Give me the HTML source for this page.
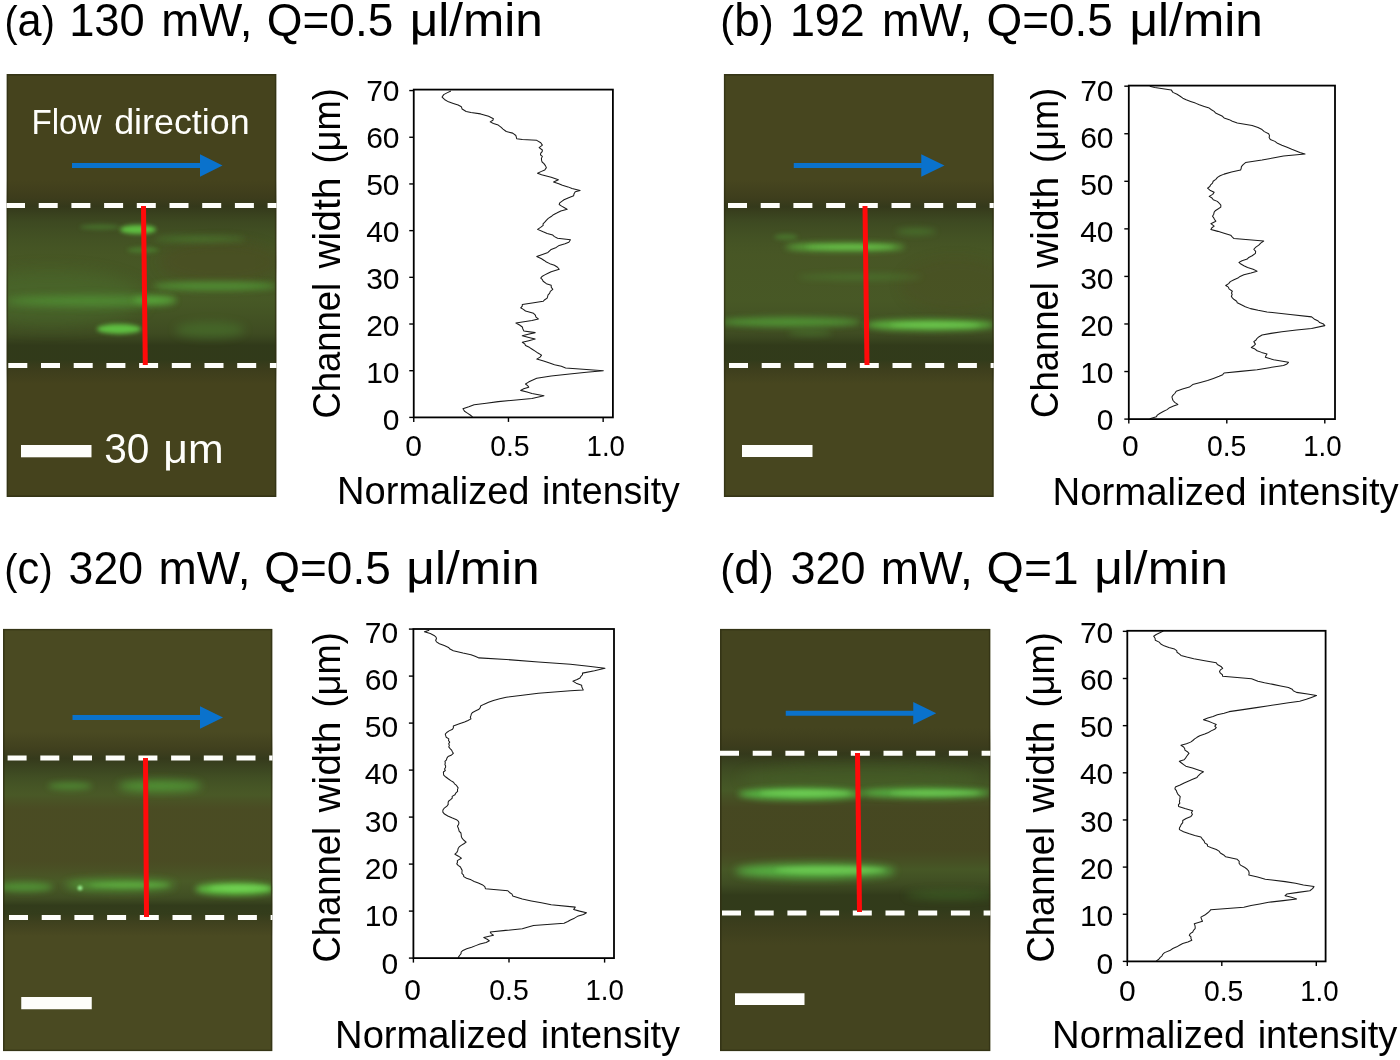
<!DOCTYPE html><html><head><meta charset="utf-8"><style>html,body{margin:0;padding:0;background:#fff;width:1400px;height:1060px;overflow:hidden}svg{display:block;will-change:transform}text{font-family:"Liberation Sans", sans-serif}</style></head><body>
<svg width="1400" height="1060" viewBox="0 0 1400 1060">
<defs>
<filter id="bl1" filterUnits="userSpaceOnUse" x="0" y="0" width="1400" height="1060"><feGaussianBlur stdDeviation="1"/></filter>
<filter id="bl2" filterUnits="userSpaceOnUse" x="0" y="0" width="1400" height="1060"><feGaussianBlur stdDeviation="2"/></filter>
<filter id="bl3" filterUnits="userSpaceOnUse" x="0" y="0" width="1400" height="1060"><feGaussianBlur stdDeviation="3"/></filter>
<filter id="bl4" filterUnits="userSpaceOnUse" x="0" y="0" width="1400" height="1060"><feGaussianBlur stdDeviation="4"/></filter>
<filter id="bl5" filterUnits="userSpaceOnUse" x="0" y="0" width="1400" height="1060"><feGaussianBlur stdDeviation="5"/></filter>
<filter id="bl6" filterUnits="userSpaceOnUse" x="0" y="0" width="1400" height="1060"><feGaussianBlur stdDeviation="6"/></filter>
<filter id="bl8" filterUnits="userSpaceOnUse" x="0" y="0" width="1400" height="1060"><feGaussianBlur stdDeviation="8"/></filter>
<filter id="bl10" filterUnits="userSpaceOnUse" x="0" y="0" width="1400" height="1060"><feGaussianBlur stdDeviation="10"/></filter>
</defs>
<clipPath id="cpa"><rect x="6.5" y="74" width="270" height="423"/></clipPath>
<g clip-path="url(#cpa)">
<rect x="6.5" y="74" width="270" height="423" fill="#45431d"/>
<linearGradient id="vga0" gradientUnits="userSpaceOnUse" x1="0" y1="180" x2="0" y2="384">
<stop offset="0" stop-color="#38381b" stop-opacity="0"/>
<stop offset="0.08" stop-color="#38381b" stop-opacity="0.55"/>
<stop offset="0.13" stop-color="#30361a" stop-opacity="0.8"/>
<stop offset="0.2" stop-color="#3a4a22" stop-opacity="0.75"/>
<stop offset="0.37" stop-color="#486a2c" stop-opacity="0.5"/>
<stop offset="0.59" stop-color="#486a2c" stop-opacity="0.55"/>
<stop offset="0.75" stop-color="#3b5024" stop-opacity="0.65"/>
<stop offset="0.81" stop-color="#2c3819" stop-opacity="0.8"/>
<stop offset="0.88" stop-color="#2c3819" stop-opacity="0.8"/>
<stop offset="0.94" stop-color="#36381b" stop-opacity="0.45"/>
<stop offset="1" stop-color="#36381b" stop-opacity="0"/>
</linearGradient>
<rect x="6.5" y="180" width="270" height="204" fill="url(#vga0)"/>
<ellipse cx="50" cy="298" rx="95" ry="28" fill="#4e7a30" opacity="0.35" filter="url(#bl8)"/>
<ellipse cx="220" cy="262" rx="60" ry="22" fill="#4e4a22" opacity="0.45" filter="url(#bl6)"/>
<ellipse cx="138" cy="229.5" rx="18" ry="4.5" fill="#62cc44" opacity="0.9" filter="url(#bl2)"/>
<ellipse cx="100" cy="227" rx="20" ry="2.5" fill="#4f9434" opacity="0.5" filter="url(#bl2)"/>
<ellipse cx="143" cy="250" rx="16" ry="3" fill="#4f9434" opacity="0.55" filter="url(#bl2)"/>
<ellipse cx="200" cy="239" rx="45" ry="3" fill="#4f9434" opacity="0.5" filter="url(#bl3)"/>
<ellipse cx="215" cy="286" rx="62" ry="4.5" fill="#55aa3a" opacity="0.65" filter="url(#bl3)"/>
<ellipse cx="90" cy="301" rx="85" ry="5" fill="#55aa3a" opacity="0.6" filter="url(#bl4)"/>
<ellipse cx="155" cy="300" rx="22" ry="4" fill="#62cc44" opacity="0.55" filter="url(#bl3)"/>
<ellipse cx="119" cy="329" rx="22" ry="5" fill="#62cc44" opacity="0.9" filter="url(#bl2)"/>
<ellipse cx="210" cy="330" rx="35" ry="8" fill="#4f9434" opacity="0.35" filter="url(#bl5)"/>
<rect x="7.3" y="74.8" width="268.4" height="421.4" fill="none" stroke="#2e2e12" stroke-width="1.6" opacity="0.7"/>
<line x1="6" y1="205.5" x2="316.5" y2="205.5" stroke="#fefefb" stroke-width="5" stroke-dasharray="19 13.7"/>
<line x1="-24.4" y1="365.5" x2="316.5" y2="365.5" stroke="#fefefb" stroke-width="5" stroke-dasharray="19 13.7"/>
<line x1="143.5" y1="206" x2="145.3" y2="365" stroke="#ff0a0a" stroke-width="5"/>
<rect x="72" y="163" width="129" height="5" fill="#0a72cc"/>
<polygon points="200,154.3 222.5,165.5 200,176.7" fill="#0a72cc"/>
<rect x="21" y="445" width="70.5" height="12.3" fill="#fefefb"/>
</g>
<clipPath id="cpb"><rect x="723.75" y="74" width="270" height="423"/></clipPath>
<g clip-path="url(#cpb)">
<rect x="723.75" y="74" width="270" height="423" fill="#47461f"/>
<linearGradient id="vgb0" gradientUnits="userSpaceOnUse" x1="0" y1="180" x2="0" y2="384">
<stop offset="0" stop-color="#38381b" stop-opacity="0"/>
<stop offset="0.08" stop-color="#38381b" stop-opacity="0.55"/>
<stop offset="0.13" stop-color="#30361a" stop-opacity="0.8"/>
<stop offset="0.2" stop-color="#3a4a22" stop-opacity="0.75"/>
<stop offset="0.37" stop-color="#486a2c" stop-opacity="0.45"/>
<stop offset="0.59" stop-color="#486a2c" stop-opacity="0.5"/>
<stop offset="0.75" stop-color="#3b5024" stop-opacity="0.65"/>
<stop offset="0.81" stop-color="#2c3819" stop-opacity="0.8"/>
<stop offset="0.88" stop-color="#2c3819" stop-opacity="0.8"/>
<stop offset="0.94" stop-color="#36381b" stop-opacity="0.45"/>
<stop offset="1" stop-color="#36381b" stop-opacity="0"/>
</linearGradient>
<rect x="723.75" y="180" width="270" height="204" fill="url(#vgb0)"/>
<ellipse cx="955" cy="285" rx="55" ry="28" fill="#4e4a22" opacity="0.3" filter="url(#bl6)"/>
<ellipse cx="845" cy="247" rx="60" ry="3.8" fill="#62cc44" opacity="0.8" filter="url(#bl3)"/>
<ellipse cx="850" cy="247" rx="45" ry="2.2" fill="#78d858" opacity="0.5" filter="url(#bl2)"/>
<ellipse cx="786" cy="237" rx="12" ry="3" fill="#4f9434" opacity="0.5" filter="url(#bl2)"/>
<ellipse cx="916" cy="231.5" rx="20" ry="3" fill="#4f9434" opacity="0.5" filter="url(#bl3)"/>
<ellipse cx="860" cy="277" rx="62" ry="3" fill="#4f9434" opacity="0.4" filter="url(#bl3)"/>
<ellipse cx="790" cy="322" rx="70" ry="5" fill="#55aa3a" opacity="0.7" filter="url(#bl3)"/>
<ellipse cx="930" cy="325" rx="65" ry="5.5" fill="#62cc44" opacity="0.8" filter="url(#bl3)"/>
<ellipse cx="935" cy="325" rx="45" ry="2.5" fill="#80e060" opacity="0.45" filter="url(#bl2)"/>
<ellipse cx="810" cy="333" rx="22" ry="3" fill="#4f9434" opacity="0.4" filter="url(#bl3)"/>
<rect x="724.55" y="74.8" width="268.4" height="421.4" fill="none" stroke="#2e2e12" stroke-width="1.6" opacity="0.7"/>
<line x1="695.3" y1="205.5" x2="1033.75" y2="205.5" stroke="#fefefb" stroke-width="5" stroke-dasharray="19 13.7"/>
<line x1="696.3" y1="365.5" x2="1033.75" y2="365.5" stroke="#fefefb" stroke-width="5" stroke-dasharray="19 13.7"/>
<line x1="865" y1="206" x2="867" y2="365" stroke="#ff0a0a" stroke-width="5"/>
<rect x="793.75" y="163" width="128.5" height="5" fill="#0a72cc"/>
<polygon points="921.25,154.3 944.5,165.5 921.25,176.7" fill="#0a72cc"/>
<rect x="742" y="445" width="70.5" height="12" fill="#fefefb"/>
</g>
<clipPath id="cpc"><rect x="3" y="628.75" width="269.5" height="422.5"/></clipPath>
<g clip-path="url(#cpc)">
<rect x="3" y="628.75" width="269.5" height="422.5" fill="#4a4a22"/>
<linearGradient id="vgc0" gradientUnits="userSpaceOnUse" x1="0" y1="732" x2="0" y2="936">
<stop offset="0" stop-color="#38381b" stop-opacity="0"/>
<stop offset="0.08" stop-color="#38381b" stop-opacity="0.55"/>
<stop offset="0.13" stop-color="#30361a" stop-opacity="0.8"/>
<stop offset="0.2" stop-color="#3a4a22" stop-opacity="0.75"/>
<stop offset="0.31" stop-color="#486a2c" stop-opacity="0.45"/>
<stop offset="0.38" stop-color="#4a5026" stop-opacity="0.3"/>
<stop offset="0.63" stop-color="#4a5026" stop-opacity="0.3"/>
<stop offset="0.73" stop-color="#486a2c" stop-opacity="0.5"/>
<stop offset="0.81" stop-color="#3b5024" stop-opacity="0.65"/>
<stop offset="0.85" stop-color="#2c3819" stop-opacity="0.8"/>
<stop offset="0.89" stop-color="#2c3819" stop-opacity="0.75"/>
<stop offset="0.95" stop-color="#36381b" stop-opacity="0.4"/>
<stop offset="1" stop-color="#36381b" stop-opacity="0"/>
</linearGradient>
<rect x="3" y="732" width="269.5" height="204" fill="url(#vgc0)"/>
<ellipse cx="70" cy="786" rx="22" ry="3.5" fill="#55aa3a" opacity="0.6" filter="url(#bl3)"/>
<ellipse cx="160" cy="786" rx="42" ry="5.5" fill="#55aa3a" opacity="0.75" filter="url(#bl4)"/>
<ellipse cx="25" cy="887" rx="28" ry="4.5" fill="#55aa3a" opacity="0.7" filter="url(#bl3)"/>
<ellipse cx="120" cy="885" rx="55" ry="5.5" fill="#55aa3a" opacity="0.8" filter="url(#bl4)"/>
<ellipse cx="235" cy="889" rx="40" ry="6" fill="#62cc44" opacity="0.95" filter="url(#bl3)"/>
<ellipse cx="240" cy="888" rx="30" ry="3" fill="#80e060" opacity="0.55" filter="url(#bl2)"/>
<ellipse cx="130" cy="885" rx="40" ry="2.5" fill="#70d050" opacity="0.4" filter="url(#bl2)"/>
<ellipse cx="80" cy="888" rx="2.5" ry="2.5" fill="#9af090" opacity="0.9" filter="url(#bl1)"/>
<rect x="3.8" y="629.55" width="267.9" height="420.9" fill="none" stroke="#2e2e12" stroke-width="1.6" opacity="0.7"/>
<line x1="-25.1" y1="758" x2="312.5" y2="758" stroke="#fefefb" stroke-width="5" stroke-dasharray="19 13.7"/>
<line x1="-23.7" y1="917.4" x2="312.5" y2="917.4" stroke="#fefefb" stroke-width="5" stroke-dasharray="19 13.7"/>
<line x1="145.5" y1="758" x2="146.5" y2="917" stroke="#ff0a0a" stroke-width="5"/>
<rect x="72.5" y="715" width="128.5" height="5" fill="#0a72cc"/>
<polygon points="200,706.3 223,717.5 200,728.7" fill="#0a72cc"/>
<rect x="21.25" y="997" width="70.5" height="12.25" fill="#fefefb"/>
</g>
<clipPath id="cpd"><rect x="720" y="628.75" width="270.5" height="422.5"/></clipPath>
<g clip-path="url(#cpd)">
<rect x="720" y="628.75" width="270.5" height="422.5" fill="#44441f"/>
<linearGradient id="vgd0" gradientUnits="userSpaceOnUse" x1="0" y1="728" x2="0" y2="945">
<stop offset="0" stop-color="#38381b" stop-opacity="0"/>
<stop offset="0.07" stop-color="#38381b" stop-opacity="0.55"/>
<stop offset="0.12" stop-color="#30361a" stop-opacity="0.8"/>
<stop offset="0.18" stop-color="#3a4a22" stop-opacity="0.75"/>
<stop offset="0.29" stop-color="#486a2c" stop-opacity="0.55"/>
<stop offset="0.37" stop-color="#4a5026" stop-opacity="0.3"/>
<stop offset="0.56" stop-color="#4a5026" stop-opacity="0.3"/>
<stop offset="0.65" stop-color="#486a2c" stop-opacity="0.5"/>
<stop offset="0.72" stop-color="#3b5024" stop-opacity="0.65"/>
<stop offset="0.77" stop-color="#2c3819" stop-opacity="0.75"/>
<stop offset="0.84" stop-color="#2c3819" stop-opacity="0.75"/>
<stop offset="0.91" stop-color="#34381b" stop-opacity="0.5"/>
<stop offset="1" stop-color="#34381b" stop-opacity="0"/>
</linearGradient>
<rect x="720" y="728" width="270.5" height="217" fill="url(#vgd0)"/>
<ellipse cx="950" cy="895" rx="45" ry="4" fill="#4f9434" opacity="0.35" filter="url(#bl4)"/>
<ellipse cx="860" cy="778" rx="120" ry="14" fill="#4a6a2c" opacity="0.35" filter="url(#bl6)"/>
<ellipse cx="800" cy="794" rx="62" ry="6" fill="#5ac848" opacity="0.85" filter="url(#bl3)"/>
<ellipse cx="925" cy="793" rx="65" ry="5" fill="#5ac848" opacity="0.8" filter="url(#bl3)"/>
<ellipse cx="805" cy="793" rx="45" ry="3" fill="#80e060" opacity="0.55" filter="url(#bl2)"/>
<ellipse cx="935" cy="793" rx="45" ry="2.5" fill="#80e060" opacity="0.5" filter="url(#bl2)"/>
<ellipse cx="815" cy="871" rx="80" ry="7" fill="#5ac848" opacity="0.85" filter="url(#bl4)"/>
<ellipse cx="830" cy="870" rx="55" ry="3.5" fill="#80e060" opacity="0.5" filter="url(#bl2)"/>
<rect x="720.8" y="629.55" width="268.9" height="420.9" fill="none" stroke="#2e2e12" stroke-width="1.6" opacity="0.7"/>
<line x1="720" y1="753.2" x2="1030.5" y2="753.2" stroke="#fefefb" stroke-width="5" stroke-dasharray="19 13.7"/>
<line x1="689.3" y1="913" x2="1030.5" y2="913" stroke="#fefefb" stroke-width="5" stroke-dasharray="19 13.7"/>
<line x1="857.5" y1="753" x2="859.5" y2="912" stroke="#ff0a0a" stroke-width="5"/>
<rect x="785.75" y="710.75" width="128.5" height="5" fill="#0a72cc"/>
<polygon points="913.25,702.05 936.25,713.25 913.25,724.45" fill="#0a72cc"/>
<rect x="735" y="993.25" width="69.5" height="11.75" fill="#fefefb"/>
</g>
<text x="4.4" y="36.3" font-size="46" fill="#000" textLength="50.4" lengthAdjust="spacingAndGlyphs"><tspan font-size="42">(</tspan>a<tspan font-size="42">)</tspan></text>
<text x="69.16" y="36.3" font-size="46" fill="#000" textLength="75.57" lengthAdjust="spacingAndGlyphs">130</text>
<text x="161.17" y="36.3" font-size="46" fill="#000" textLength="91.29" lengthAdjust="spacingAndGlyphs">mW,</text>
<text x="266.79" y="36.3" font-size="46" fill="#000" textLength="126.41" lengthAdjust="spacingAndGlyphs">Q=0.5</text>
<text x="409.75" y="36.3" font-size="46" fill="#000" textLength="133.12" lengthAdjust="spacingAndGlyphs">μl/min</text>
<text x="720.28" y="36.3" font-size="46" fill="#000" textLength="53.45" lengthAdjust="spacingAndGlyphs"><tspan font-size="42">(</tspan>b<tspan font-size="42">)</tspan></text>
<text x="789.93" y="36.3" font-size="46" fill="#000" textLength="74.83" lengthAdjust="spacingAndGlyphs">192</text>
<text x="881.9" y="36.3" font-size="46" fill="#000" textLength="90.24" lengthAdjust="spacingAndGlyphs">mW,</text>
<text x="986.59" y="36.3" font-size="46" fill="#000" textLength="126.33" lengthAdjust="spacingAndGlyphs">Q=0.5</text>
<text x="1129.53" y="36.3" font-size="46" fill="#000" textLength="133.34" lengthAdjust="spacingAndGlyphs">μl/min</text>
<text x="4.37" y="583.9" font-size="46" fill="#000" textLength="48.27" lengthAdjust="spacingAndGlyphs"><tspan font-size="42">(</tspan>c<tspan font-size="42">)</tspan></text>
<text x="68.62" y="583.9" font-size="46" fill="#000" textLength="74.38" lengthAdjust="spacingAndGlyphs">320</text>
<text x="158.58" y="583.9" font-size="46" fill="#000" textLength="91.88" lengthAdjust="spacingAndGlyphs">mW,</text>
<text x="264.28" y="583.9" font-size="46" fill="#000" textLength="126.45" lengthAdjust="spacingAndGlyphs">Q=0.5</text>
<text x="406.37" y="583.9" font-size="46" fill="#000" textLength="133.25" lengthAdjust="spacingAndGlyphs">μl/min</text>
<text x="720.28" y="583.9" font-size="46" fill="#000" textLength="53.45" lengthAdjust="spacingAndGlyphs"><tspan font-size="42">(</tspan>d<tspan font-size="42">)</tspan></text>
<text x="790.39" y="583.9" font-size="46" fill="#000" textLength="75.01" lengthAdjust="spacingAndGlyphs">320</text>
<text x="880.86" y="583.9" font-size="46" fill="#000" textLength="91.91" lengthAdjust="spacingAndGlyphs">mW,</text>
<text x="986.59" y="583.9" font-size="46" fill="#000" textLength="91.99" lengthAdjust="spacingAndGlyphs">Q=1</text>
<text x="1094.15" y="583.9" font-size="46" fill="#000" textLength="133.7" lengthAdjust="spacingAndGlyphs">μl/min</text>
<text x="337.09" y="503.9" font-size="38" fill="#000" textLength="192.42" lengthAdjust="spacingAndGlyphs">Normalized</text>
<text x="542.12" y="503.9" font-size="38" fill="#000" textLength="137.75" lengthAdjust="spacingAndGlyphs">intensity</text>
<text x="1052.58" y="504.5" font-size="38" fill="#000" textLength="193.88" lengthAdjust="spacingAndGlyphs">Normalized</text>
<text x="1258.57" y="504.5" font-size="38" fill="#000" textLength="140.06" lengthAdjust="spacingAndGlyphs">intensity</text>
<text x="335.11" y="1048.4" font-size="38" fill="#000" textLength="192.75" lengthAdjust="spacingAndGlyphs">Normalized</text>
<text x="540.86" y="1048.4" font-size="38" fill="#000" textLength="139.22" lengthAdjust="spacingAndGlyphs">intensity</text>
<text x="1052.1" y="1047.5" font-size="38" fill="#000" textLength="193.21" lengthAdjust="spacingAndGlyphs">Normalized</text>
<text x="1257.63" y="1047.5" font-size="38" fill="#000" textLength="139.75" lengthAdjust="spacingAndGlyphs">intensity</text>
<text transform="translate(340 418.51) rotate(-90)" font-size="38" fill="#000" textLength="135.72" lengthAdjust="spacingAndGlyphs">Channel</text>
<text transform="translate(340 268.57) rotate(-90)" font-size="38" fill="#000" textLength="91.14" lengthAdjust="spacingAndGlyphs">width</text>
<text transform="translate(340 163.52) rotate(-90)" font-size="38" fill="#000" textLength="75.23" lengthAdjust="spacingAndGlyphs">(μm)</text>
<text transform="translate(1058 417.89) rotate(-90)" font-size="38" fill="#000" textLength="135.69" lengthAdjust="spacingAndGlyphs">Channel</text>
<text transform="translate(1058 267.98) rotate(-90)" font-size="38" fill="#000" textLength="91.15" lengthAdjust="spacingAndGlyphs">width</text>
<text transform="translate(1058 162.88) rotate(-90)" font-size="38" fill="#000" textLength="75.19" lengthAdjust="spacingAndGlyphs">(μm)</text>
<text transform="translate(340 962.51) rotate(-90)" font-size="38" fill="#000" textLength="135.72" lengthAdjust="spacingAndGlyphs">Channel</text>
<text transform="translate(340 812.57) rotate(-90)" font-size="38" fill="#000" textLength="91.14" lengthAdjust="spacingAndGlyphs">width</text>
<text transform="translate(340 707.52) rotate(-90)" font-size="38" fill="#000" textLength="75.23" lengthAdjust="spacingAndGlyphs">(μm)</text>
<text transform="translate(1054.4 962.51) rotate(-90)" font-size="38" fill="#000" textLength="135.72" lengthAdjust="spacingAndGlyphs">Channel</text>
<text transform="translate(1054.4 812.57) rotate(-90)" font-size="38" fill="#000" textLength="91.14" lengthAdjust="spacingAndGlyphs">width</text>
<text transform="translate(1054.4 707.52) rotate(-90)" font-size="38" fill="#000" textLength="75.23" lengthAdjust="spacingAndGlyphs">(μm)</text>
<text x="31.38" y="133.8" font-size="35" fill="#fefefb" textLength="70.13" lengthAdjust="spacingAndGlyphs">Flow</text>
<text x="114.18" y="133.8" font-size="35" fill="#fefefb" textLength="135.43" lengthAdjust="spacingAndGlyphs">direction</text>
<text x="104.24" y="462.5" font-size="42.5" fill="#fefefb" textLength="45.22" lengthAdjust="spacingAndGlyphs">30</text>
<text x="163.24" y="462.5" font-size="41.5" fill="#fefefb" textLength="60.33" lengthAdjust="spacingAndGlyphs">μm</text>
<path d="M450.91 91.1 L446.94 92.86 L443.69 94.63 L442.09 97.03 L444.49 99.44 L448.5 101.85 L453.31 103.45 L458.13 105.05 L461.34 106.66 L462.14 109.07 L466.15 111.47 L470.97 112.6 L480.59 113.88 L488.61 116.29 L493.43 118.69 L492.84 120.3 L490.22 121.9 L493.43 123.5 L498.24 125.11 L500.92 127.11 L503.05 129.12 L506.26 131.53 L512.68 133.13 L515.89 135.54 L516.32 137.14 L516.69 138.75 L522.31 139.55 L536.74 140.35 L540.76 142.76 L542.36 145.16 L539.15 147.57 L542.36 149.98 L542.16 151.58 L540.76 153.19 L540.46 154.79 L542.36 156.39 L541.42 158.4 L541.56 160.41 L542.12 162.01 L543.96 163.61 L545.4 165.62 L546.37 167.62 L544.77 170.03 L540.89 171.64 L537.55 173.24 L541.56 174.84 L551.18 177.25 L558.4 179.66 L553.59 182.06 L558.77 183.67 L562.41 185.27 L567.98 186.88 L572.04 188.48 L580.06 190.57 L575.25 191.69 L574.06 193.7 L573.65 195.7 L568.68 197.71 L564.02 199.71 L561.8 201.32 L559.72 202.92 L559.21 204.53 L561.64 206.13 L564.5 207.73 L567.23 209.34 L560.81 210.94 L557.24 212.81 L553.43 214.69 L551.18 216.56 L548.27 218.43 L546.31 220.3 L544.77 222.17 L543.05 223.78 L543.16 225.38 L540.61 227.39 L537.55 229.39 L543.16 231.8 L547.17 233.4 L552.79 235.01 L554.43 236.61 L557.6 238.22 L570.44 239.82 L568.83 242.23 L565.03 243.83 L559.21 245.44 L556.27 247.44 L551.18 249.45 L547.98 252.41 L542.44 254.41 L536.74 256.42 L541.56 258.82 L544.16 260.43 L546.37 262.03 L549.81 263.64 L554.39 265.24 L557.55 267.25 L559.21 269.25 L551.18 271.66 L548.04 273.26 L544.77 274.87 L541.97 276.47 L540.76 278.08 L542.42 279.68 L543.16 281.29 L546.37 283.69 L551.18 285.3 L551.26 287.3 L552.79 289.31 L550.3 291.31 L549.58 293.32 L548.07 294.92 L547.61 296.53 L547.17 298.13 L544.77 299.74 L543.16 301.34 L532.21 302.94 L522.31 304.55 L522.26 306.15 L520.7 307.76 L523.34 309.36 L525.51 310.97 L533.54 313.37 L535.36 315.24 L535.98 317.12 L538.35 318.99 L531.93 320.59 L515.89 323 L519.57 325 L522.31 327.01 L522.89 329.01 L523.91 331.02 L535.14 332.62 L528.21 334.23 L522.31 335.83 L528.85 337.44 L535.14 339.04 L528.87 340.65 L522.31 342.25 L524.7 343.86 L525.51 345.46 L529.32 347.33 L532.19 349.2 L535.14 351.07 L537.99 353.08 L541.56 355.09 L540.06 357.09 L536.74 359.1 L543.62 361.1 L549.58 363.11 L554.48 364.71 L561.37 366.32 L565.62 367.92 L586.48 369.53 L603.33 370.65 L586.48 372.25 L569.68 374.1 L551.18 375.94 L536.74 378.35 L532.29 380.22 L528.53 382.09 L525.51 383.96 L527.59 385.57 L528.72 387.17 L523.7 388.78 L520.7 390.38 L527.05 391.99 L531.93 393.59 L543.96 395.68 L531.93 398.4 L516.07 400.01 L498.24 401.61 L486.26 403.22 L474.17 404.82 L468.82 406.83 L462.94 408.83 L464.55 411.24 L467.38 413.11 L470.2 414.98 L472.57 416.85" fill="none" stroke="#1a1a1a" stroke-width="1.05" stroke-linejoin="round"/>
<rect x="413.75" y="89.6" width="199.15" height="327.8" fill="none" stroke="#000" stroke-width="1.8"/>
<line x1="409.25" y1="417.4" x2="413.75" y2="417.4" stroke="#000" stroke-width="1.4"/>
<line x1="409.25" y1="370.71" x2="413.75" y2="370.71" stroke="#000" stroke-width="1.4"/>
<line x1="409.25" y1="324.02" x2="413.75" y2="324.02" stroke="#000" stroke-width="1.4"/>
<line x1="409.25" y1="277.33" x2="413.75" y2="277.33" stroke="#000" stroke-width="1.4"/>
<line x1="409.25" y1="230.64" x2="413.75" y2="230.64" stroke="#000" stroke-width="1.4"/>
<line x1="409.25" y1="183.95" x2="413.75" y2="183.95" stroke="#000" stroke-width="1.4"/>
<line x1="409.25" y1="137.26" x2="413.75" y2="137.26" stroke="#000" stroke-width="1.4"/>
<line x1="409.25" y1="90.57" x2="413.75" y2="90.57" stroke="#000" stroke-width="1.4"/>
<line x1="413.75" y1="417.4" x2="413.75" y2="421.9" stroke="#000" stroke-width="1.4"/>
<line x1="508.45" y1="417.4" x2="508.45" y2="421.9" stroke="#000" stroke-width="1.4"/>
<line x1="603.15" y1="417.4" x2="603.15" y2="421.9" stroke="#000" stroke-width="1.4"/>
<text x="399.5" y="429.5" font-size="30" text-anchor="end" fill="#000">0</text>
<text x="399.5" y="382.56" font-size="30" text-anchor="end" fill="#000">10</text>
<text x="399.5" y="335.63" font-size="30" text-anchor="end" fill="#000">20</text>
<text x="399.5" y="288.69" font-size="30" text-anchor="end" fill="#000">30</text>
<text x="399.5" y="241.76" font-size="30" text-anchor="end" fill="#000">40</text>
<text x="399.5" y="194.82" font-size="30" text-anchor="end" fill="#000">50</text>
<text x="399.5" y="147.89" font-size="30" text-anchor="end" fill="#000">60</text>
<text x="399.5" y="100.95" font-size="30" text-anchor="end" fill="#000">70</text>
<text x="413.5" y="456.25" font-size="30" text-anchor="middle" fill="#000">0</text>
<text x="509.9" y="456.25" font-size="30" text-anchor="middle" fill="#000" textLength="39.4" lengthAdjust="spacingAndGlyphs">0.5</text>
<text x="605.75" y="456.25" font-size="30" text-anchor="middle" fill="#000" textLength="38.4" lengthAdjust="spacingAndGlyphs">1.0</text>
<path d="M1149.77 86.27 L1154.72 87.43 L1171.24 89.91 L1172.89 92.38 L1177.07 94.31 L1180.16 96.24 L1182.79 98.16 L1186.16 99.82 L1190.61 101.47 L1195.38 103.12 L1199.31 104.77 L1204.21 106.42 L1209.21 108.07 L1211.47 109.72 L1214.17 111.37 L1215.55 113.03 L1219.3 114.68 L1222.5 116.33 L1224.08 117.98 L1229.24 119.63 L1232.36 121.28 L1237.29 122.93 L1252.15 125.41 L1257.99 127.47 L1262.05 129.54 L1264.32 131.6 L1268.66 133.67 L1269.51 135.59 L1269.12 137.52 L1270.31 139.45 L1274.96 141.37 L1277.49 143.3 L1281.87 145.22 L1287.08 147.29 L1291.78 149.35 L1296.14 150.89 L1299.89 152.44 L1304.99 153.98 L1283.52 155.96 L1272.92 158.02 L1262.05 160.09 L1245.54 162.56 L1243.14 164.63 L1241.41 166.69 L1241.2 168.34 L1240.59 169.99 L1231.51 172.06 L1224.08 174.12 L1220.09 175.77 L1217.47 177.42 L1215.82 179.35 L1213.16 181.28 L1212.52 183.2 L1210.65 184.85 L1209.82 186.51 L1207.56 188.16 L1209.88 190.22 L1214.17 192.29 L1212.7 194.35 L1209.21 196.41 L1212.02 198.06 L1213.27 199.72 L1217.33 201.37 L1219.12 203.02 L1220.85 205.08 L1220.77 207.15 L1218.33 208.8 L1215.63 210.45 L1214.17 212.1 L1213.74 214.16 L1212.52 216.23 L1213.76 217.88 L1214.54 219.53 L1215.82 221.18 L1210.87 223.66 L1214.17 226.14 L1211.89 227.79 L1210.87 229.44 L1217.89 231.37 L1224.1 233.29 L1230.68 235.22 L1232.17 236.87 L1233.98 238.52 L1263.71 241 L1260.69 243.06 L1258.75 245.13 L1255.86 247.19 L1253.8 249.25 L1255.67 251.28 L1255.45 253.3 L1252.15 255.78 L1248.78 257.43 L1247.19 259.08 L1242.02 260.73 L1238.94 262.38 L1240.9 264.04 L1243.89 265.69 L1247.6 267.5 L1253.12 269.32 L1257.1 271.14 L1250.97 272.95 L1243.89 274.77 L1240.07 276.42 L1237.89 278.07 L1233.98 279.72 L1230.29 281.65 L1228.66 283.58 L1225.73 285.5 L1228.41 287.15 L1229.03 288.8 L1232.33 291.28 L1231.47 292.93 L1232.17 294.58 L1231.36 296.24 L1232.33 297.89 L1234.12 299.54 L1236.67 301.19 L1237.29 302.84 L1241.33 304.77 L1245.27 306.69 L1250.5 308.62 L1258.15 310.27 L1267.01 311.92 L1290.13 314.4 L1311.59 316.88 L1314.11 318.94 L1318.2 321 L1319.65 322.55 L1323.55 324.09 L1324.8 325.63 L1311.59 328.43 L1296.47 330.09 L1281.87 331.74 L1271.01 333.39 L1262.05 335.04 L1259.12 336.69 L1257.1 338.34 L1256.06 339.99 L1253.8 341.64 L1255.45 344.12 L1253.97 345.77 L1251.32 347.42 L1255 349.08 L1257.1 350.73 L1261.57 352.38 L1267.01 354.03 L1265.92 355.68 L1265.36 357.33 L1273.61 359.81 L1288.47 362.29 L1286.99 363.94 L1283.52 365.59 L1269.39 367.65 L1257.1 369.72 L1240.44 371.37 L1224.08 373.02 L1222.69 374.67 L1219.12 376.32 L1213.41 378.39 L1207.56 380.45 L1200.36 382.51 L1192.7 384.58 L1189.4 387.05 L1182.52 389.12 L1176.19 391.18 L1174.97 393.25 L1172.89 395.31 L1171.9 396.96 L1172.4 398.61 L1172.89 400.26 L1174.69 402.33 L1177.84 404.39 L1173.51 406.04 L1169.58 407.69 L1167.04 409.62 L1163.23 411.55 L1159.68 413.47 L1157.29 415.13 L1156.37 416.78 L1149.77 418.76" fill="none" stroke="#1a1a1a" stroke-width="1.05" stroke-linejoin="round"/>
<rect x="1128.8" y="85.6" width="206.2" height="333.5" fill="none" stroke="#000" stroke-width="1.8"/>
<line x1="1124.3" y1="419.1" x2="1128.8" y2="419.1" stroke="#000" stroke-width="1.4"/>
<line x1="1124.3" y1="371.54" x2="1128.8" y2="371.54" stroke="#000" stroke-width="1.4"/>
<line x1="1124.3" y1="323.98" x2="1128.8" y2="323.98" stroke="#000" stroke-width="1.4"/>
<line x1="1124.3" y1="276.42" x2="1128.8" y2="276.42" stroke="#000" stroke-width="1.4"/>
<line x1="1124.3" y1="228.86" x2="1128.8" y2="228.86" stroke="#000" stroke-width="1.4"/>
<line x1="1124.3" y1="181.3" x2="1128.8" y2="181.3" stroke="#000" stroke-width="1.4"/>
<line x1="1124.3" y1="133.74" x2="1128.8" y2="133.74" stroke="#000" stroke-width="1.4"/>
<line x1="1124.3" y1="86.18" x2="1128.8" y2="86.18" stroke="#000" stroke-width="1.4"/>
<line x1="1128.8" y1="419.1" x2="1128.8" y2="423.6" stroke="#000" stroke-width="1.4"/>
<line x1="1226.8" y1="419.1" x2="1226.8" y2="423.6" stroke="#000" stroke-width="1.4"/>
<line x1="1324.8" y1="419.1" x2="1324.8" y2="423.6" stroke="#000" stroke-width="1.4"/>
<text x="1113.55" y="429.85" font-size="30" text-anchor="end" fill="#000">0</text>
<text x="1113.55" y="382.84" font-size="30" text-anchor="end" fill="#000">10</text>
<text x="1113.55" y="335.82" font-size="30" text-anchor="end" fill="#000">20</text>
<text x="1113.55" y="288.81" font-size="30" text-anchor="end" fill="#000">30</text>
<text x="1113.55" y="241.79" font-size="30" text-anchor="end" fill="#000">40</text>
<text x="1113.55" y="194.78" font-size="30" text-anchor="end" fill="#000">50</text>
<text x="1113.55" y="147.76" font-size="30" text-anchor="end" fill="#000">60</text>
<text x="1113.55" y="100.75" font-size="30" text-anchor="end" fill="#000">70</text>
<text x="1130.35" y="456.25" font-size="30" text-anchor="middle" fill="#000">0</text>
<text x="1226.65" y="456.25" font-size="30" text-anchor="middle" fill="#000" textLength="39.4" lengthAdjust="spacingAndGlyphs">0.5</text>
<text x="1322.45" y="456.25" font-size="30" text-anchor="middle" fill="#000" textLength="38.4" lengthAdjust="spacingAndGlyphs">1.0</text>
<path d="M429.25 630.13 L424.44 631.74 L430.27 633.58 L434.07 635.43 L436.01 637.03 L436.47 638.64 L435.63 640.24 L436.47 641.85 L439.43 643.72 L444.25 645.59 L448.5 647.46 L449.96 649.07 L453.32 650.67 L462.94 653.08 L470.97 654.68 L475.1 656.29 L478.99 657.89 L506.26 659.49 L538.35 661.9 L570.44 664.31 L588.53 666.31 L604.93 668.32 L594.5 670.72 L582.47 673.13 L582.5 674.74 L580.99 676.34 L580.06 677.94 L577.11 679.55 L572.84 681.15 L576.16 683.16 L581.67 685.16 L581.77 686.77 L582.43 688.37 L583.27 689.98 L570.44 690.78 L538.35 693.19 L522.34 695.19 L506.26 697.2 L499.76 698.8 L493.43 700.41 L488.54 702.28 L484.2 704.15 L480.59 706.02 L480.27 707.62 L478.99 709.23 L475.82 710.83 L472.57 712.44 L471.34 714.04 L470.92 715.65 L470.31 717.25 L470.97 718.86 L467.98 720.46 L464.55 722.06 L458.71 724.07 L453.32 726.07 L453.4 727.68 L452.52 729.28 L449.1 730.89 L446.71 732.49 L445.3 734.1 L445.69 735.7 L446.25 737.31 L448.79 738.91 L448.5 740.51 L449.67 742.12 L448.69 743.72 L449.37 745.33 L448.75 746.93 L450.11 748.54 L451.62 750.14 L452.39 751.74 L453.32 753.35 L451.62 754.95 L448.07 756.56 L446.9 758.16 L446.46 759.77 L444.95 761.37 L445.3 762.98 L444.92 764.48 L445.64 765.98 L445.53 767.49 L444.54 768.99 L445.32 770.5 L443.39 772 L443.49 773.5 L443.69 775.01 L445.83 777.01 L448.5 779.02 L450.79 780.62 L453.54 782.23 L454.53 783.83 L456.53 785.44 L458.13 787.84 L457.46 789.63 L457.6 791.42 L455.72 793.21 L454.94 794.81 L452.16 796.42 L452.24 798.02 L450.59 799.63 L448.5 801.23 L448.08 802.83 L448.23 804.44 L446.9 806.04 L444.34 808.05 L442.89 810.05 L442.85 812.06 L444.49 814.07 L447.8 815.94 L451.87 817.81 L456.53 819.68 L458.47 821.29 L458.93 822.89 L458.58 824.49 L457.45 826.1 L458.13 827.7 L458.74 829.47 L459.1 831.23 L460.94 833 L461.2 834.76 L461.34 836.53 L462.15 838.4 L463.85 840.27 L466.15 842.14 L463.85 843.75 L461.19 845.35 L459.18 846.95 L458.13 848.56 L457.75 850.43 L456.92 852.3 L454.92 854.17 L458.45 856.18 L461.34 858.19 L457.33 860.59 L457.49 862.2 L456.8 863.8 L458.13 865.41 L460.46 867.01 L461.19 868.61 L462.14 870.22 L461.99 871.82 L461.91 873.43 L463.58 875.03 L463.75 876.64 L466.54 878.24 L471.12 879.84 L474.17 881.45 L478.31 883.05 L482.2 884.66 L484.81 886.66 L485.41 888.67 L507.87 890.75 L509.49 892.47 L512.04 894.18 L512.68 895.89 L517.45 897.49 L522.31 899.1 L531.35 900.97 L541.4 902.84 L551.18 904.71 L575.25 907.12 L573.65 909.53 L579.61 911.13 L586.48 912.73 L583.44 914.54 L577.5 916.34 L574.42 918.15 L570.44 919.95 L567.82 921.56 L564.02 923.16 L533.54 925.57 L527.35 927.17 L522.31 928.78 L505.64 930.38 L490.22 931.99 L491.09 933.59 L493.43 935.19 L483.8 937.6 L487.18 939.21 L489.42 940.81 L486.08 942.41 L479.95 944.02 L475.76 945.62 L471.62 947.23 L466.72 948.83 L462.94 950.44 L461.13 952.04 L461.05 953.65 L459.74 955.25 L458.13 957.66" fill="none" stroke="#1a1a1a" stroke-width="1.05" stroke-linejoin="round"/>
<rect x="413.4" y="629" width="200.6" height="329.1" fill="none" stroke="#000" stroke-width="1.8"/>
<line x1="408.9" y1="958.1" x2="413.4" y2="958.1" stroke="#000" stroke-width="1.4"/>
<line x1="408.9" y1="911.1" x2="413.4" y2="911.1" stroke="#000" stroke-width="1.4"/>
<line x1="408.9" y1="864.1" x2="413.4" y2="864.1" stroke="#000" stroke-width="1.4"/>
<line x1="408.9" y1="817.1" x2="413.4" y2="817.1" stroke="#000" stroke-width="1.4"/>
<line x1="408.9" y1="770.1" x2="413.4" y2="770.1" stroke="#000" stroke-width="1.4"/>
<line x1="408.9" y1="723.1" x2="413.4" y2="723.1" stroke="#000" stroke-width="1.4"/>
<line x1="408.9" y1="676.1" x2="413.4" y2="676.1" stroke="#000" stroke-width="1.4"/>
<line x1="408.9" y1="629.1" x2="413.4" y2="629.1" stroke="#000" stroke-width="1.4"/>
<line x1="413.4" y1="958.1" x2="413.4" y2="962.6" stroke="#000" stroke-width="1.4"/>
<line x1="509" y1="958.1" x2="509" y2="962.6" stroke="#000" stroke-width="1.4"/>
<line x1="604.6" y1="958.1" x2="604.6" y2="962.6" stroke="#000" stroke-width="1.4"/>
<text x="398.15" y="973.75" font-size="30" text-anchor="end" fill="#000">0</text>
<text x="398.15" y="926.43" font-size="30" text-anchor="end" fill="#000">10</text>
<text x="398.15" y="879.11" font-size="30" text-anchor="end" fill="#000">20</text>
<text x="398.15" y="831.79" font-size="30" text-anchor="end" fill="#000">30</text>
<text x="398.15" y="784.46" font-size="30" text-anchor="end" fill="#000">40</text>
<text x="398.15" y="737.14" font-size="30" text-anchor="end" fill="#000">50</text>
<text x="398.15" y="689.82" font-size="30" text-anchor="end" fill="#000">60</text>
<text x="398.15" y="642.5" font-size="30" text-anchor="end" fill="#000">70</text>
<text x="412.55" y="1000.3" font-size="30" text-anchor="middle" fill="#000">0</text>
<text x="508.95" y="1000.3" font-size="30" text-anchor="middle" fill="#000" textLength="39.4" lengthAdjust="spacingAndGlyphs">0.5</text>
<text x="604.6" y="1000.3" font-size="30" text-anchor="middle" fill="#000" textLength="38.4" lengthAdjust="spacingAndGlyphs">1.0</text>
<path d="M1163.32 631.1 L1159.83 632.81 L1156.24 634.52 L1153.69 636.23 L1155.07 638.24 L1155.3 640.24 L1159.18 642.11 L1160.78 643.98 L1164.12 645.86 L1168.85 647.46 L1174.55 649.07 L1176.76 650.67 L1176.97 652.27 L1179.33 653.88 L1180.97 655.48 L1186.72 657.09 L1193.8 658.69 L1204.73 660.7 L1216.26 662.7 L1217.36 664.57 L1221 666.45 L1222.68 668.32 L1220.4 669.92 L1219.47 671.53 L1220.39 673.13 L1222.39 674.74 L1222.68 676.34 L1251.56 678.75 L1257.98 681.15 L1264.53 682.76 L1272.96 684.36 L1280.69 685.97 L1288.46 687.57 L1292.12 689.17 L1293.26 690.78 L1296.48 692.38 L1307.55 693.99 L1316.53 695.59 L1311.42 697.46 L1306.36 699.34 L1299.69 701.21 L1288.52 702.81 L1277.09 704.42 L1267.18 706.02 L1256.37 707.62 L1242.95 709.63 L1229.1 711.64 L1224.15 713.24 L1217.32 714.84 L1213.05 716.45 L1207.82 718.05 L1203.43 719.66 L1208.52 721.26 L1212.39 722.87 L1216.26 724.47 L1214.78 726.07 L1216.25 727.68 L1214.66 729.28 L1211.15 730.89 L1208.46 732.49 L1204.75 734.1 L1199.74 735.7 L1197.01 737.31 L1194.66 738.91 L1192.85 740.51 L1190.59 742.12 L1186.47 743.72 L1180.97 745.33 L1183.63 746.93 L1184.69 748.54 L1184.93 750.14 L1187.37 751.74 L1188.99 753.35 L1187.71 754.95 L1186.53 756.56 L1185.54 758.16 L1184.17 759.77 L1179.36 761.37 L1181.53 762.98 L1183.62 764.58 L1185.78 766.18 L1192.45 768.06 L1198.25 769.93 L1203.43 771.8 L1200.51 773.67 L1198.47 775.54 L1197.01 777.41 L1192.62 779.29 L1188.19 781.16 L1184.17 783.03 L1180.15 785.04 L1175.35 787.04 L1174.92 788.81 L1176.38 790.58 L1176.89 792.36 L1177.78 794.13 L1180.26 796.6 L1179.89 798.25 L1179.73 799.91 L1179.44 801.56 L1179.82 803.21 L1178.41 804.86 L1178.61 806.51 L1184.91 808.57 L1192.64 810.64 L1191.51 812.56 L1192.39 814.49 L1190.99 816.42 L1186.1 818.48 L1182.74 820.54 L1182.75 822.61 L1181.09 824.67 L1180.43 826.32 L1179.38 827.97 L1179.44 829.62 L1183.55 831.69 L1189.34 833.75 L1194.76 835.4 L1200.9 837.05 L1202.44 839.12 L1204.2 841.18 L1204.73 842.83 L1207.37 844.48 L1207.5 846.13 L1211.4 847.78 L1216.3 849.44 L1219.06 851.09 L1220.36 853.01 L1223.69 854.94 L1225.66 856.86 L1237.22 859.34 L1239.25 861.27 L1239.09 863.19 L1240.52 865.12 L1244.4 867.18 L1247.13 869.25 L1248.69 871.17 L1249.17 873.1 L1248.78 875.03 L1257.57 877.09 L1265.29 879.15 L1285.1 881.63 L1295.51 883.28 L1303.4 884.93 L1313.99 886.58 L1312.58 888.65 L1309.86 890.71 L1298.12 892.36 L1286.75 894.01 L1285.1 895.66 L1291.5 897.31 L1296.66 898.96 L1283.18 900.62 L1268.59 902.27 L1259.84 903.92 L1251.08 905.57 L1243.82 907.22 L1210.8 909.7 L1209.45 911.35 L1207.5 913 L1204.83 915.06 L1200.9 917.13 L1201.48 919.19 L1202.55 921.25 L1194.29 923.73 L1194.91 925.38 L1195.2 927.03 L1195.12 928.68 L1193.47 930.33 L1192.77 931.98 L1190.2 933.64 L1189.34 935.29 L1190.99 936.94 L1190.91 938.59 L1191.82 940.24 L1187.84 941.89 L1182.74 943.54 L1179.49 945.19 L1176.77 946.84 L1172.83 948.49 L1169.78 950.56 L1164.58 952.62 L1162.71 954.27 L1162.05 955.92 L1160 957.57 L1158.81 959.23 L1156.32 960.88" fill="none" stroke="#1a1a1a" stroke-width="1.05" stroke-linejoin="round"/>
<rect x="1127.3" y="630.8" width="198.3" height="330.6" fill="none" stroke="#000" stroke-width="1.8"/>
<line x1="1122.8" y1="961.4" x2="1127.3" y2="961.4" stroke="#000" stroke-width="1.4"/>
<line x1="1122.8" y1="914.25" x2="1127.3" y2="914.25" stroke="#000" stroke-width="1.4"/>
<line x1="1122.8" y1="867.1" x2="1127.3" y2="867.1" stroke="#000" stroke-width="1.4"/>
<line x1="1122.8" y1="819.95" x2="1127.3" y2="819.95" stroke="#000" stroke-width="1.4"/>
<line x1="1122.8" y1="772.8" x2="1127.3" y2="772.8" stroke="#000" stroke-width="1.4"/>
<line x1="1122.8" y1="725.65" x2="1127.3" y2="725.65" stroke="#000" stroke-width="1.4"/>
<line x1="1122.8" y1="678.5" x2="1127.3" y2="678.5" stroke="#000" stroke-width="1.4"/>
<line x1="1122.8" y1="631.35" x2="1127.3" y2="631.35" stroke="#000" stroke-width="1.4"/>
<line x1="1127.3" y1="961.4" x2="1127.3" y2="965.9" stroke="#000" stroke-width="1.4"/>
<line x1="1221.8" y1="961.4" x2="1221.8" y2="965.9" stroke="#000" stroke-width="1.4"/>
<line x1="1316.3" y1="961.4" x2="1316.3" y2="965.9" stroke="#000" stroke-width="1.4"/>
<text x="1113.25" y="973.55" font-size="30" text-anchor="end" fill="#000">0</text>
<text x="1113.25" y="926.26" font-size="30" text-anchor="end" fill="#000">10</text>
<text x="1113.25" y="878.96" font-size="30" text-anchor="end" fill="#000">20</text>
<text x="1113.25" y="831.67" font-size="30" text-anchor="end" fill="#000">30</text>
<text x="1113.25" y="784.38" font-size="30" text-anchor="end" fill="#000">40</text>
<text x="1113.25" y="737.09" font-size="30" text-anchor="end" fill="#000">50</text>
<text x="1113.25" y="689.79" font-size="30" text-anchor="end" fill="#000">60</text>
<text x="1113.25" y="642.5" font-size="30" text-anchor="end" fill="#000">70</text>
<text x="1127.25" y="1000.6" font-size="30" text-anchor="middle" fill="#000">0</text>
<text x="1223.65" y="1000.6" font-size="30" text-anchor="middle" fill="#000" textLength="39.4" lengthAdjust="spacingAndGlyphs">0.5</text>
<text x="1319.35" y="1000.6" font-size="30" text-anchor="middle" fill="#000" textLength="38.4" lengthAdjust="spacingAndGlyphs">1.0</text>
</svg></body></html>
